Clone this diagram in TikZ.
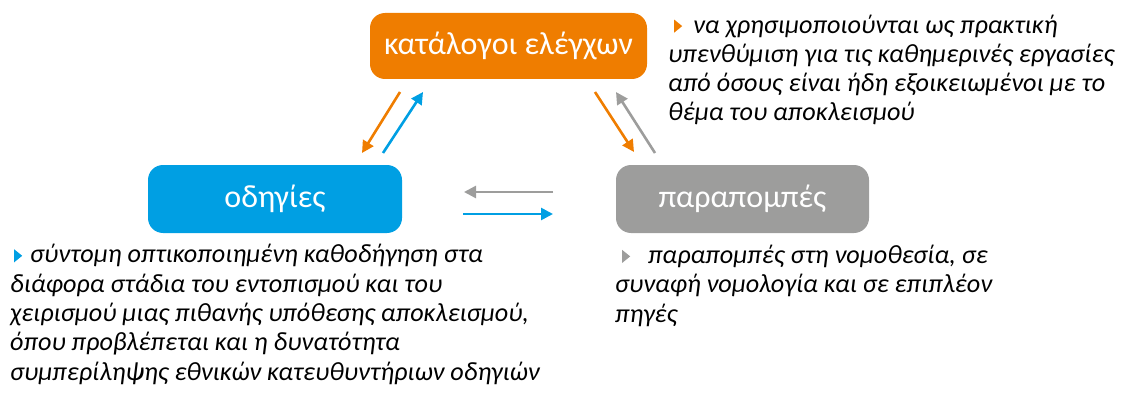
\documentclass[tikz,border=0pt]{standalone}
\usepackage{fontspec}
\setmainfont{Carlito}
\usetikzlibrary{arrows.meta}
\definecolor{corange}{HTML}{EF7D00}
\definecolor{cblue}{HTML}{009FE3}
\definecolor{cgray}{HTML}{9D9D9C}
\newcommand{\tribullet}[1]{\tikz[baseline=0pt,x=1pt,y=1pt]\fill[#1] (0,0.5)--(0,13.5)--(8,7)--cycle;}
\begin{document}
\begin{tikzpicture}[x=1pt,y=-1pt,
  box/.style={rounded corners=15pt, inner sep=0pt, text=white,
    font=\fontsize{32}{38}\selectfont},
  conn/.style={line width=2.6pt, -{Triangle[length=12pt,width=12pt]}},
  desc/.style={inner sep=0pt, align=left, anchor=base west,
    font=\fontsize{26.2}{29.3}\selectfont\itshape}]
\useasboundingbox (0,0) rectangle (1128,396);
% boxes
\node[box, fill=corange, minimum width=277pt, minimum height=66pt] (cat) at (508.5,46) {κατάλογοι ελέγχων};
\node[box, fill=cblue, minimum width=254pt, minimum height=68pt] (odi) at (275,199) {οδηγίες};
\node[box, fill=cgray, minimum width=253pt, minimum height=68pt] (par) at (742.5,199) {παραπομπές};
% arrow end points
\coordinate (o1s) at (400,92);  \coordinate (o1e) at (362,153);
\coordinate (b1s) at (383,153); \coordinate (b1e) at (423,92);
\coordinate (o2s) at (595,92);  \coordinate (o2e) at (634,152);
\coordinate (g1s) at (655,153); \coordinate (g1e) at (616,92);
\coordinate (g2s) at (553,192); \coordinate (g2e) at (464,192);
\coordinate (b2s) at (463,214); \coordinate (b2e) at (553,214);
\draw[conn, corange] (o1s) -- (o1e);
\draw[conn, cblue] (b1s) -- (b1e);
\draw[conn, corange] (o2s) -- (o2e);
\draw[conn, cgray] (g1s) -- (g1e);
\draw[conn, cgray] (g2s) -- (g2e);
\draw[conn, cblue] (b2s) -- (b2e);
% descriptions (anchored at the baseline of their last line)
\node[desc] (tcat) at (668,121) {\hspace{6pt}\tribullet{corange}\hspace{11pt}να χρησιμοποιούνται ως πρακτική\\
υπενθύμιση για τις καθημερινές εργασίες\\
από όσους είναι ήδη εξοικειωμένοι με το\\
θέμα του αποκλεισμού};
\node[desc] (todi) at (10,380) {\hspace{4pt}\tribullet{cblue}\hspace{8pt}σύντομη οπτικοποιημένη καθοδήγηση στα\\
διάφορα στάδια του εντοπισμού και του\\
χειρισμού μιας πιθανής υπόθεσης αποκλεισμού,\\
όπου προβλέπεται και η δυνατότητα\\
συμπερίληψης εθνικών κατευθυντήριων οδηγιών};
\node[desc] (tpar) at (615,322) {\hspace{7pt}\tribullet{cgray}\hspace{18pt}παραπομπές στη νομοθεσία, σε\\
συναφή νομολογία και σε επιπλέον\\
πηγές};
\end{tikzpicture}
\end{document}
